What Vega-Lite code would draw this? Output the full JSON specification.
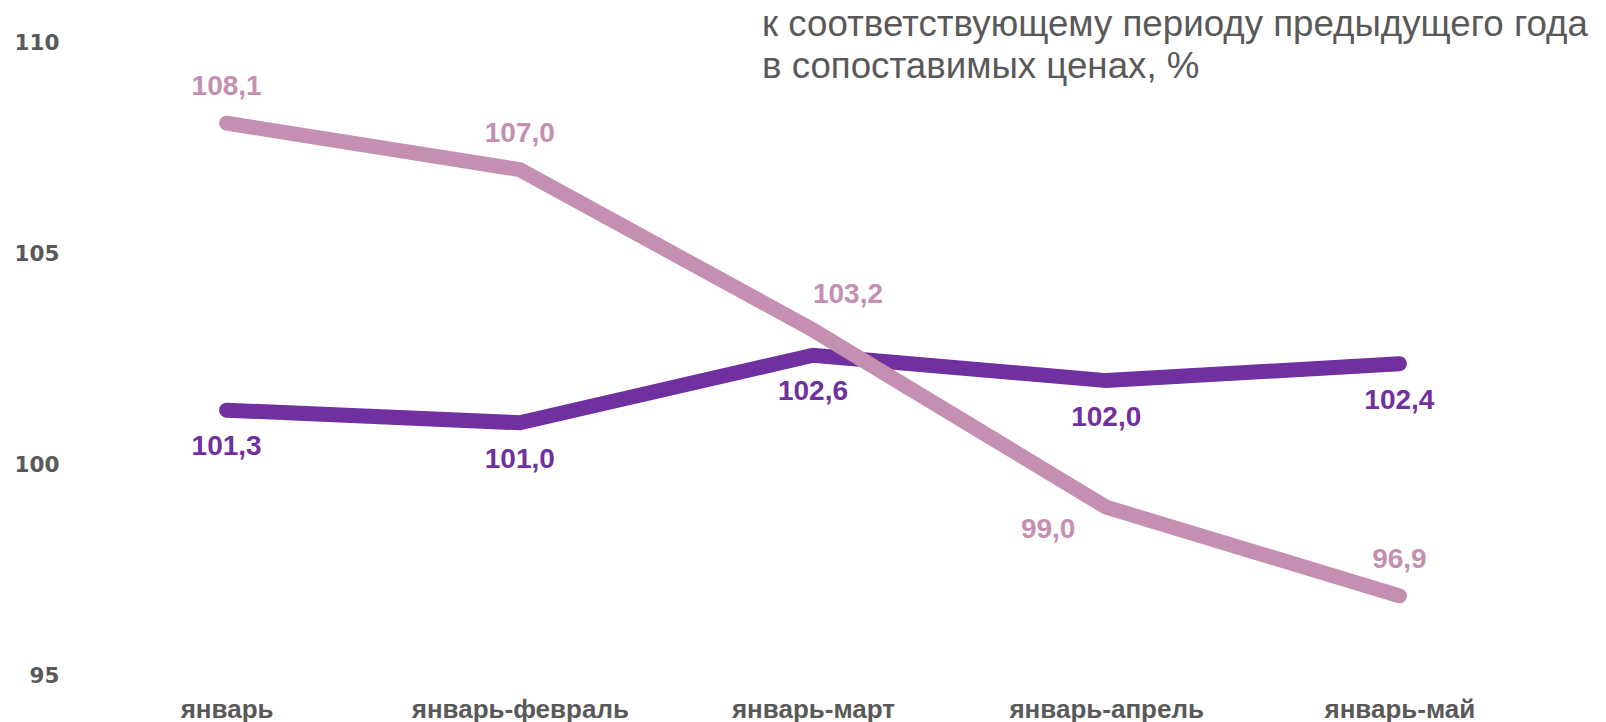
{
  "$schema": "https://vega.github.io/schema/vega-lite/v6.json",
  "width": 1466,
  "height": 633,
  "autosize": {"type": "none"},
  "padding": {"left": 80, "top": 43, "right": 60, "bottom": 46},
  "background": "white",
  "config": {
    "view": {"stroke": null},
    "locale": {"number": {"decimal": ",", "thousands": " ", "grouping": [3], "currency": ["", " ₽"]}}
  },
  "title": {
    "text": ["к соответствующему периоду предыдущего года", "в сопоставимых ценах, %"],
    "orient": "top",
    "anchor": "start",
    "frame": "group",
    "align": "left",
    "baseline": "top",
    "offset": -54,
    "dx": 682,
    "font": "Liberation Sans",
    "fontSize": 36.7,
    "fontWeight": "normal",
    "color": "#595959",
    "lineHeight": 42,
    "limit": 0
  },
  "data": {
    "values": [
      {"period": "январь", "series": "ряд 1", "value": 101.3},
      {"period": "январь-февраль", "series": "ряд 1", "value": 101.0},
      {"period": "январь-март", "series": "ряд 1", "value": 102.6},
      {"period": "январь-апрель", "series": "ряд 1", "value": 102.0},
      {"period": "январь-май", "series": "ряд 1", "value": 102.4},
      {"period": "январь", "series": "ряд 2", "value": 108.1},
      {"period": "январь-февраль", "series": "ряд 2", "value": 107.0},
      {"period": "январь-март", "series": "ряд 2", "value": 103.2},
      {"period": "январь-апрель", "series": "ряд 2", "value": 99.0},
      {"period": "январь-май", "series": "ряд 2", "value": 96.9}
    ]
  },
  "encoding": {
    "x": {
      "field": "period",
      "type": "ordinal",
      "sort": ["январь", "январь-февраль", "январь-март", "январь-апрель", "январь-май"],
      "scale": {"type": "point", "padding": 0.5},
      "axis": {
        "title": null,
        "domain": false,
        "ticks": false,
        "tickSize": 0,
        "grid": false,
        "labelAngle": 0,
        "labelLimit": 0,
        "labelFont": "Liberation Sans",
        "labelFontWeight": "bold",
        "labelFontSize": 26,
        "labelColor": "#595959",
        "labelBaseline": "alphabetic",
        "labelPadding": 41
      }
    },
    "y": {
      "field": "value",
      "type": "quantitative",
      "scale": {"domain": [95, 110], "nice": false, "zero": false},
      "axis": {
        "title": null,
        "values": [95, 100, 105, 110],
        "format": "d",
        "domain": false,
        "ticks": false,
        "tickSize": 0,
        "grid": false,
        "labelFont": "DejaVu Sans",
        "labelFontWeight": "bold",
        "labelFontSize": 21.5,
        "labelColor": "#595959",
        "labelPadding": 21
      }
    },
    "color": {
      "field": "series",
      "type": "nominal",
      "scale": {"domain": ["ряд 1", "ряд 2"], "range": ["#7030A0", "#C48FB0"]},
      "legend": null
    }
  },
  "layer": [
    {
      "transform": [{"filter": "datum.series === 'ряд 1'"}],
      "mark": {"type": "line", "strokeWidth": 15, "strokeCap": "round"}
    },
    {
      "transform": [{"filter": "datum.series === 'ряд 2'"}],
      "mark": {"type": "line", "strokeWidth": 15, "strokeCap": "round"}
    },
    {
      "transform": [{"filter": "datum.series === 'ряд 1'"}],
      "mark": {"type": "text", "font": "Liberation Sans", "fontWeight": "bold", "fontSize": 28, "dy": 37, "baseline": "middle"},
      "encoding": {"text": {"field": "value", "type": "quantitative", "format": ".1f"}}
    },
    {
      "transform": [{"filter": "datum.series === 'ряд 2' && datum.period !== 'январь-март' && datum.period !== 'январь-апрель'"}],
      "mark": {"type": "text", "font": "Liberation Sans", "fontWeight": "bold", "fontSize": 28, "dy": -36, "baseline": "middle"},
      "encoding": {"text": {"field": "value", "type": "quantitative", "format": ".1f"}}
    },
    {
      "transform": [{"filter": "datum.series === 'ряд 2' && datum.period === 'январь-март'"}],
      "mark": {"type": "text", "font": "Liberation Sans", "fontWeight": "bold", "fontSize": 28, "dx": 35, "dy": -35, "baseline": "middle"},
      "encoding": {"text": {"field": "value", "type": "quantitative", "format": ".1f"}}
    },
    {
      "transform": [{"filter": "datum.series === 'ряд 2' && datum.period === 'январь-апрель'"}],
      "mark": {"type": "text", "font": "Liberation Sans", "fontWeight": "bold", "fontSize": 28, "dx": -58, "dy": 23, "baseline": "middle"},
      "encoding": {"text": {"field": "value", "type": "quantitative", "format": ".1f"}}
    }
  ]
}
